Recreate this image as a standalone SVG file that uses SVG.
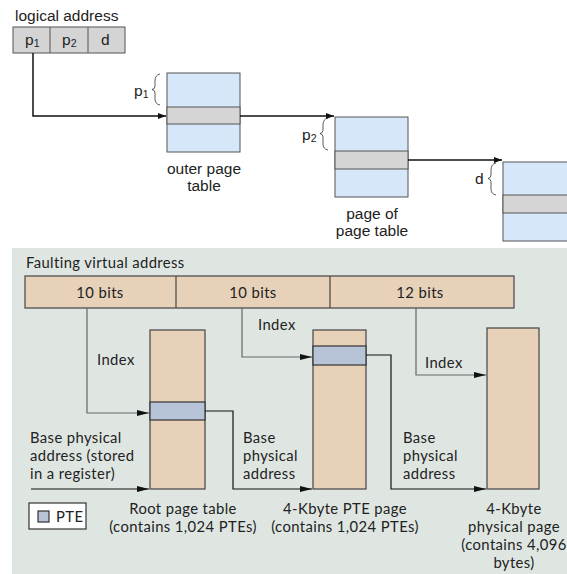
<svg xmlns="http://www.w3.org/2000/svg" width="567" height="574" viewBox="0 0 567 574">
<defs>
<marker id="ah" markerWidth="8" markerHeight="6" refX="8" refY="3" orient="auto" markerUnits="userSpaceOnUse"><path d="M0,0 L8,3 L0,6 z" fill="#111"/></marker>
<marker id="ab" markerWidth="12" markerHeight="6" refX="12" refY="3" orient="auto" markerUnits="userSpaceOnUse"><path d="M0,0 L12,3 L0,6 z" fill="#111"/></marker>
</defs>
<style>
.t{font-family:"Liberation Sans",Arial,sans-serif;font-size:15.5px;fill:#222}
.s{font-family:"Liberation Sans",Arial,sans-serif;font-size:10.5px;fill:#222}
.b{font-family:Lato,"Open Sans",sans-serif;font-size:14.8px;letter-spacing:0.4px;fill:#222}
.tb{fill:#d6e7fa;stroke:#555;stroke-width:1}
.tg{fill:#d5d5d5;stroke:#555;stroke-width:1}
.tan{fill:#e7d1b8;stroke:#444;stroke-width:1.2}
.pte{fill:#b7c3d7;stroke:#333;stroke-width:1.2}
.ln{fill:none;stroke:#111;stroke-width:1.5}
.gl{fill:none;stroke:#666;stroke-width:1.2}
.bl{fill:none;stroke:#111;stroke-width:1.2}
.br{fill:none;stroke:#333;stroke-width:0.8}
</style>
<rect width="567" height="574" fill="#fff"/>
<g id="top-address">
<text class="t" x="15" y="21">logical address</text>
<rect x="13" y="27" width="112" height="26" fill="#d4d4d4" stroke="#555"/>
<line x1="50" y1="27" x2="50" y2="53" stroke="#555"/>
<line x1="88" y1="27" x2="88" y2="53" stroke="#555"/>
<text class="t" x="25" y="45">p<tspan class="s" dy="2">1</tspan></text>
<text class="t" x="62" y="45">p<tspan class="s" dy="2">2</tspan></text>
<text class="t" x="101" y="45">d</text>
</g>
<g id="outer-page-table">
<rect class="tb" x="167" y="73" width="73" height="79"/>
<rect class="tg" x="167" y="107" width="73" height="17"/>
<path class="br" d="M160,74 Q155,75 155,81 L155,86 Q155,89 152,89.5 Q155,90 155,93 L155,99 Q155,104 160,105"/>
<text class="t" x="134" y="96">p<tspan class="s" dy="2">1</tspan></text>
<text class="t" x="204" y="174" text-anchor="middle">outer page</text>
<text class="t" x="204" y="191" text-anchor="middle">table</text>
</g>
<g id="page-of-page-table">
<rect class="tb" x="335" y="117" width="73" height="80"/>
<rect class="tg" x="335" y="151" width="73" height="18"/>
<path class="br" d="M328,118 Q323,119 323,125 L323,130 Q323,133 320,133.5 Q323,134 323,137 L323,144 Q323,149 328,150"/>
<text class="t" x="302" y="140">p<tspan class="s" dy="2">2</tspan></text>
<text class="t" x="372" y="219" text-anchor="middle">page of</text>
<text class="t" x="372" y="236" text-anchor="middle">page table</text>
</g>
<g id="page">
<rect class="tb" x="503" y="162" width="70" height="79"/>
<rect class="tg" x="503" y="195" width="70" height="18"/>
<path class="br" d="M496,163 Q491,164 491,170 L491,175 Q491,178 488,178.5 Q491,179 491,182 L491,189 Q491,194 496,195"/>
<text class="t" x="475" y="184">d</text>
</g>
<g id="top-connectors">
<path class="ln" d="M33,53 V116 H166" marker-end="url(#ah)"/>
<path class="ln" d="M240,116 H334" marker-end="url(#ah)"/>
<path class="ln" d="M408,160 H502" marker-end="url(#ah)"/>
</g>
<rect x="12" y="248" width="555" height="326" fill="#dfe6e2"/>
<g id="faulting-address">
<text class="b" x="26" y="268">Faulting virtual address</text>
<rect class="tan" x="25" y="276" width="489" height="32"/>
<line x1="176" y1="276" x2="176" y2="308" stroke="#444" stroke-width="1.2"/>
<line x1="330" y1="276" x2="330" y2="308" stroke="#444" stroke-width="1.2"/>
<text class="b" x="100" y="298" text-anchor="middle">10 bits</text>
<text class="b" x="253" y="298" text-anchor="middle">10 bits</text>
<text class="b" x="420" y="298" text-anchor="middle">12 bits</text>
</g>
<g id="root-page-table">
<rect class="tan" x="150" y="330" width="55" height="159"/>
<rect class="pte" x="150" y="402" width="55" height="18"/>
<text class="b" x="183" y="514" text-anchor="middle">Root page table</text>
<text class="b" x="183" y="532" text-anchor="middle">(contains 1,024 PTEs)</text>
</g>
<g id="pte-page">
<rect class="tan" x="313" y="330" width="53" height="159"/>
<rect class="pte" x="313" y="346" width="53" height="19"/>
<text class="b" x="345" y="514" text-anchor="middle">4-Kbyte PTE page</text>
<text class="b" x="345" y="532" text-anchor="middle">(contains 1,024 PTEs)</text>
</g>
<g id="physical-page">
<rect class="tan" x="487" y="328" width="52" height="161"/>
<text class="b" x="514" y="514" text-anchor="middle">4-Kbyte</text>
<text class="b" x="514" y="532" text-anchor="middle">physical page</text>
<text class="b" x="514" y="550" text-anchor="middle">(contains 4,096</text>
<text class="b" x="514" y="568" text-anchor="middle">bytes)</text>
</g>
<g id="legend">
<rect x="29" y="503" width="57" height="26" fill="#fff" stroke="#333" stroke-width="1.2"/>
<rect class="pte" x="38" y="511" width="11" height="11"/>
<text class="b" x="56" y="522">PTE</text>
</g>
<g id="bottom-connectors">
<path class="gl" d="M87,308 V413 H149" marker-end="url(#ab)"/>
<text class="b" x="97" y="365">Index</text>
<path class="gl" d="M242,308 V357 H312" marker-end="url(#ab)"/>
<text class="b" x="258" y="330">Index</text>
<path class="gl" d="M416,308 V375 H486" marker-end="url(#ab)"/>
<text class="b" x="425" y="368">Index</text>
<path class="bl" d="M31,489 H149" marker-end="url(#ab)"/>
<text class="b" x="30" y="443">Base physical</text>
<text class="b" x="30" y="461">address (stored</text>
<text class="b" x="30" y="479">in a register)</text>
<path class="bl" d="M205,411 H233 V489 H312" marker-end="url(#ab)"/>
<text class="b" x="243" y="443">Base</text>
<text class="b" x="243" y="461">physical</text>
<text class="b" x="243" y="479">address</text>
<path class="bl" d="M366,355 H391 V489 H486" marker-end="url(#ab)"/>
<text class="b" x="403" y="443">Base</text>
<text class="b" x="403" y="461">physical</text>
<text class="b" x="403" y="479">address</text>
</g>
</svg>
